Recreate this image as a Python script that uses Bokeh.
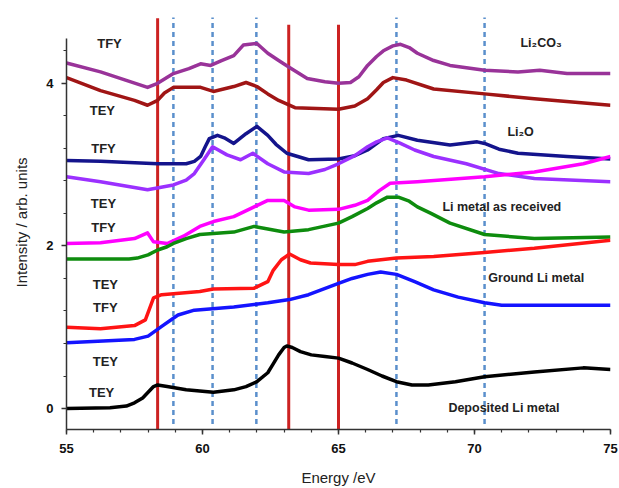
from bokeh.plotting import figure
from bokeh.models import SingleIntervalTicker, Label
from bokeh.embed import file_html
from bokeh.resources import INLINE

# ---- data (Energy eV, intensity arb. units) ----
li2co3_tfy_x = [55, 56.25, 57.98, 58.35, 58.93, 59.5, 59.93, 60.3, 60.7, 61.15, 61.5, 62.0, 62.4, 62.8, 63.17, 63.85, 64.5, 65.0, 65.44, 65.75, 66.07, 66.4, 66.65, 67.0, 67.28, 67.6, 67.9, 68.5, 69.1, 70.37, 71.6, 72.4, 73.4, 75]
li2co3_tfy_y = [4.25, 4.14, 3.95, 4.0, 4.12, 4.18, 4.24, 4.22, 4.28, 4.34, 4.47, 4.49, 4.37, 4.28, 4.2, 4.06, 4.02, 4.0, 4.01, 4.08, 4.22, 4.33, 4.40, 4.46, 4.48, 4.44, 4.37, 4.28, 4.22, 4.16, 4.14, 4.16, 4.12, 4.12]

li2co3_tey_x = [55, 56.25, 57.5, 57.98, 58.35, 58.6, 58.93, 59.93, 60.4, 61.15, 61.6, 62.0, 62.4, 62.8, 63.4, 65.0, 65.6, 66.07, 66.4, 66.65, 67.0, 67.5, 68.5, 70.37, 72.2, 75]
li2co3_tey_y = [4.07, 3.91, 3.79, 3.73, 3.79, 3.88, 3.95, 3.95, 3.90, 3.96, 4.01, 3.96, 3.87, 3.79, 3.70, 3.68, 3.72, 3.81, 3.92, 4.01, 4.07, 4.04, 3.93, 3.87, 3.81, 3.73]

li2o_tfy_x = [55, 56.25, 58.35, 59.4, 59.7, 59.93, 60.1, 60.25, 60.55, 60.8, 61.15, 61.6, 62.0, 62.4, 62.7, 63.1, 63.9, 65.0, 65.6, 66.07, 66.65, 67.2, 67.9, 69.1, 70.1, 70.37, 70.9, 71.6, 73.4, 75]
li2o_tfy_y = [3.05, 3.04, 3.01, 3.01, 3.04, 3.10, 3.22, 3.32, 3.36, 3.33, 3.26, 3.38, 3.47, 3.36, 3.25, 3.14, 3.06, 3.07, 3.11, 3.18, 3.32, 3.36, 3.30, 3.24, 3.28, 3.26, 3.19, 3.14, 3.10, 3.07]

li2o_tey_x = [55, 56.25, 57.98, 58.93, 59.4, 59.7, 60.05, 60.37, 60.9, 61.4, 61.85, 62.4, 63.0, 63.9, 64.5, 65.0, 65.6, 66.07, 66.4, 66.8, 67.28, 67.8, 68.5, 69.7, 70.9, 72.2, 75]
li2o_tey_y = [2.85, 2.79, 2.69, 2.75, 2.81, 2.89, 3.06, 3.22, 3.12, 3.06, 3.14, 3.01, 2.91, 2.89, 2.94, 3.01, 3.11, 3.22, 3.28, 3.33, 3.26, 3.18, 3.10, 3.01, 2.89, 2.83, 2.79]

asrec_tey_x = [55, 56.25, 57.5, 57.98, 58.2, 58.7, 59.3, 59.9, 60.4, 61.15, 61.9, 62.4, 63.0, 63.4, 63.9, 65.0, 65.6, 66.07, 66.5, 66.9, 67.9, 70.37, 72.2, 74, 75]
asrec_tey_y = [2.03, 2.04, 2.09, 2.16, 2.05, 2.03, 2.12, 2.24, 2.30, 2.36, 2.48, 2.56, 2.56, 2.48, 2.44, 2.45, 2.50, 2.56, 2.68, 2.77, 2.79, 2.85, 2.91, 3.01, 3.10]

asrec_tfy_x = [55, 57.3, 57.6, 58.0, 58.35, 58.7, 58.93, 59.4, 59.9, 61.15, 61.9, 63.0, 63.9, 65.0, 65.5, 66.07, 66.4, 66.8, 67.2, 67.6, 67.9, 68.4, 69.1, 70.37, 72.2, 75]
asrec_tfy_y = [1.84, 1.84, 1.85, 1.89, 1.95, 1.99, 2.03, 2.09, 2.14, 2.17, 2.24, 2.17, 2.20, 2.28, 2.36, 2.46, 2.53, 2.60, 2.60, 2.55, 2.48, 2.40, 2.28, 2.14, 2.09, 2.11]

ground_tey_x = [55, 56.25, 57.5, 57.9, 58.2, 58.5, 59.9, 60.4, 61.9, 62.4, 62.6, 62.9, 63.2, 63.6, 63.97, 65.0, 65.6, 66.07, 67.13, 68.5, 70.37, 72.2, 75]
ground_tey_y = [1.0, 0.98, 1.02, 1.09, 1.36, 1.40, 1.44, 1.47, 1.48, 1.56, 1.70, 1.83, 1.90, 1.83, 1.79, 1.77, 1.77, 1.81, 1.85, 1.87, 1.92, 1.97, 2.07]

ground_tfy_x = [55, 57.5, 58.0, 58.5, 59.1, 59.7, 61.15, 62.4, 63.2, 63.9, 65.0, 65.5, 66.07, 66.55, 67.13, 67.8, 68.5, 69.4, 70.37, 71.0, 75]
ground_tfy_y = [0.81, 0.85, 0.89, 1.01, 1.15, 1.21, 1.25, 1.30, 1.34, 1.40, 1.54, 1.60, 1.65, 1.68, 1.65, 1.56, 1.46, 1.37, 1.30, 1.27, 1.27]

dep_tey_x = [55, 56.6, 57.2, 57.5, 57.8, 58.0, 58.2, 58.35, 58.7, 59.4, 60.4, 61.15, 61.6, 62.0, 62.4, 62.6, 62.8, 63.0, 63.1, 63.3, 63.6, 64.0, 64.5, 65.0, 65.5, 66.07, 66.6, 67.13, 67.7, 68.3, 69.3, 70.37, 72.2, 74, 75]
dep_tey_y = [0.0, 0.01, 0.03, 0.07, 0.13, 0.2, 0.27, 0.29, 0.27, 0.23, 0.2, 0.23, 0.27, 0.33, 0.44, 0.55, 0.66, 0.75, 0.77, 0.75, 0.70, 0.66, 0.64, 0.62, 0.56, 0.48, 0.40, 0.33, 0.29, 0.29, 0.33, 0.39, 0.45, 0.50, 0.48]

red_lines_x = [58.35, 63.17, 65.0]
blue_lines_x = [58.93, 60.37, 61.98, 67.13, 70.37]

mode_labels = ["TFY", "TEY", "TFY", "TEY", "TFY", "TEY", "TFY", "TEY", "TEY"]
sample_labels = ["Li\u2082CO\u2083", "Li\u2082O", "Li metal as received", "Ground Li metal", "Deposited Li metal"]

x_ticks = [55, 60, 65, 70, 75]
y_ticks = [0, 2, 4]

# ---- figure ----
p = figure(width=619, height=488, output_backend="svg", toolbar_location=None,
           x_range=(55, 75), y_range=(-0.258, 4.834),
           min_border_left=66, min_border_right=9, min_border_top=15, min_border_bottom=58)
p.grid.visible = False
p.outline_line_color = None
p.background_fill_color = "white"
p.border_fill_color = "white"

# vertical reference lines
p.segment(x0=red_lines_x, x1=red_lines_x, y0=[-0.258] * 3, y1=[4.80, 4.72, 4.72],
          line_color="#CC2222", line_width=3)
p.segment(x0=blue_lines_x, x1=blue_lines_x, y0=[-0.19] * 5, y1=[4.81] * 5,
          line_color="#5A8FCC", line_width=2.5, line_dash="5 4")

series = [
    (li2co3_tfy_x, li2co3_tfy_y, "#993399"),
    (li2co3_tey_x, li2co3_tey_y, "#A01515"),
    (li2o_tfy_x, li2o_tfy_y, "#14148C"),
    (li2o_tey_x, li2o_tey_y, "#9B30FF"),
    (asrec_tey_x, asrec_tey_y, "#FF00FF"),
    (asrec_tfy_x, asrec_tfy_y, "#0E8C0E"),
    (ground_tey_x, ground_tey_y, "#FF1414"),
    (ground_tfy_x, ground_tfy_y, "#1414FF"),
    (dep_tey_x, dep_tey_y, "#000000"),
]
for xs, ys, c in series:
    p.line(xs, ys, line_color=c, line_width=3.5, line_join="round")

# text labels
mode_pos = [(56.58, 4.49), (56.32, 3.67), (56.36, 3.20), (56.36, 2.52), (56.36, 2.23),
            (56.43, 1.52), (56.43, 1.24), (56.43, 0.58), (56.29, 0.20)]
for t, (lx, ly) in zip(mode_labels, mode_pos):
    p.add_layout(Label(x=lx, y=ly, text=t, text_align="center", text_baseline="middle",
                       text_font="Liberation Sans", text_font_style="bold",
                       text_font_size="13px", text_color="#222222"))

sample_pos = [(71.69, 4.50), (71.21, 3.40), (68.82, 2.48), (70.51, 1.61), (69.04, 0.01)]
for t, (lx, ly) in zip(sample_labels, sample_pos):
    p.add_layout(Label(x=lx, y=ly, text=t, text_align="left", text_baseline="middle",
                       text_font="Liberation Sans", text_font_style="bold",
                       text_font_size="12.5px", text_color="#222222"))

# axes
p.xaxis.ticker = SingleIntervalTicker(interval=5, num_minor_ticks=5)
p.yaxis.ticker = SingleIntervalTicker(interval=2, num_minor_ticks=5)
p.yaxis.bounds = (-0.258, 4.55)
for ax in (p.xaxis[0], p.yaxis[0]):
    ax.axis_line_color = "#333333"
    ax.axis_line_width = 1.5
    ax.major_tick_line_color = "#333333"
    ax.minor_tick_line_color = "#333333"
    ax.major_tick_line_width = 1.5
    ax.minor_tick_line_width = 1.2
    ax.major_tick_in = 0
    ax.major_tick_out = 5
    ax.minor_tick_in = 0
    ax.minor_tick_out = 3
    ax.major_label_text_font = "Liberation Sans"
    ax.major_label_text_font_style = "bold"
    ax.major_label_text_font_size = "13px"
    ax.major_label_text_color = "#111111"
    ax.axis_label_text_font = "Liberation Sans"
    ax.axis_label_text_font_style = "normal"
    ax.axis_label_text_font_size = "15px"
    ax.axis_label_text_color = "#222222"

p.xaxis.axis_label = "Energy /eV"
p.yaxis.axis_label = "Intensity / arb. units"
p.xaxis.major_label_standoff = 9
p.xaxis.axis_label_standoff = 13
p.yaxis.major_label_standoff = 8
p.yaxis.axis_label_standoff = 13

open("out.html", "w").write(file_html(p, INLINE))
